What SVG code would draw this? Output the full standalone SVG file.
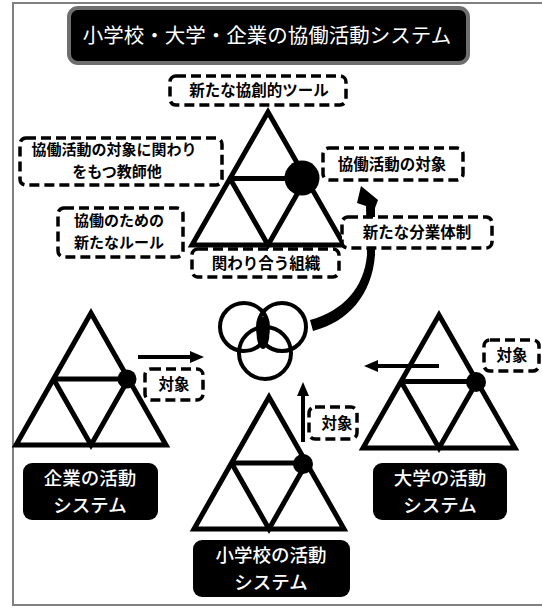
<svg xmlns="http://www.w3.org/2000/svg" width="542" height="608" viewBox="0 0 542 608">
<style>
  .tri{fill:none;stroke:#000;stroke-width:5;stroke-linejoin:miter}
  .dash{fill:#fff;stroke:#000;stroke-width:3.5;stroke-dasharray:10 5}
  .lbl{font-family:"Noto Sans CJK JP","Noto Sans CJK SC",sans-serif;font-size:15.5px;font-weight:700;fill:#000;text-anchor:middle}
  .lbl2{font-size:15px}
  .blk{fill:#000}
  .wt{font-family:"Noto Sans CJK JP","Noto Sans CJK SC",sans-serif;font-size:18.5px;font-weight:500;fill:#fff;text-anchor:middle}
  .ring{fill:none;stroke:#000;stroke-width:4}
  .arr{stroke:#000;stroke-width:4;fill:none}
</style>
<rect x="0" y="0" width="542" height="608" fill="#fff"/>
<rect x="13" y="3" width="540" height="602" fill="#fff" stroke="#808080" stroke-width="2"/>

<g id="title">
  <rect x="69" y="8" width="399" height="55" rx="9" fill="#000" stroke="#6e6e6e" stroke-width="4"/>
  <text class="wt" x="267" y="43" style="font-size:20.5px;font-weight:400">小学校・大学・企業の協働活動システム</text>
</g>

<g id="connectors">
  <path d="M313,331 C348,322 372,295 375,255 L375,208 L378,200 L361,186 L357,203 L366,206 L367,255 C364,288 343,311 310,320 Z" fill="#000"/>
  <line class="arr" x1="138" y1="357" x2="193" y2="357"/>
  <polygon points="190,351 204,357 190,363" fill="#000"/>
  <line class="arr" x1="439" y1="366" x2="376" y2="366"/>
  <polygon points="378,360 364,366 378,372" fill="#000"/>
  <line class="arr" x1="303" y1="442" x2="303" y2="394"/>
  <polygon points="297,396 303,382 309,396" fill="#000"/>
</g>

<g id="top-system">
  <polygon class="tri" points="268,112 192,245 344,245"/>
  <line class="tri" x1="230" y1="178.5" x2="306" y2="178.5"/>
  <polyline class="tri" points="230,178.5 268,245 306,178.5"/>
  <circle cx="302" cy="178" r="17.5" fill="#000"/>
</g>

<g id="company-system">
  <polygon class="tri" points="91,313 16,445 166,445"/>
  <line class="tri" x1="53.5" y1="379" x2="128.5" y2="379"/>
  <polyline class="tri" points="53.5,379 91,445 128.5,379"/>
  <circle cx="127" cy="379" r="9.5" fill="#000"/>
</g>

<g id="university-system">
  <polygon class="tri" points="439,315 363,448 515,448"/>
  <line class="tri" x1="401" y1="381.5" x2="477" y2="381.5"/>
  <polyline class="tri" points="401,381.5 439,448 477,381.5"/>
  <circle cx="476" cy="382" r="10" fill="#000"/>
</g>

<g id="school-system">
  <polygon class="tri" points="269,397 194,529 344,529"/>
  <line class="tri" x1="231.5" y1="463" x2="306.5" y2="463"/>
  <polyline class="tri" points="231.5,463 269,529 306.5,463"/>
  <circle cx="303" cy="464" r="10" fill="#000"/>
</g>

<g id="overlap">
  <circle class="ring" cx="244" cy="327" r="24"/>
  <circle class="ring" cx="282" cy="327" r="24"/>
  <circle class="ring" cx="265" cy="353" r="26"/>
  <ellipse cx="263" cy="333" rx="6.5" ry="16" fill="#000"/>
</g>

<g id="label-tool">
  <rect class="dash" x="170" y="76" width="176" height="29" rx="6"/>
  <text class="lbl" x="259" y="96">新たな協創的ツール</text>
</g>
<g id="label-teacher">
  <rect class="dash" x="20" y="138" width="202" height="47" rx="6"/>
  <text class="lbl lbl2" x="114" y="155">協働活動の対象に関わり</text>
  <text class="lbl lbl2" x="117" y="177">をもつ教師他</text>
</g>
<g id="label-rule">
  <rect class="dash" x="58" y="208" width="125" height="49" rx="6"/>
  <text class="lbl lbl2" x="119" y="226">協働のための</text>
  <text class="lbl lbl2" x="119" y="248">新たなルール</text>
</g>
<g id="label-object">
  <rect class="dash" x="323" y="148" width="140" height="32" rx="6"/>
  <text class="lbl" x="392" y="170">協働活動の対象</text>
</g>
<g id="label-division">
  <rect class="dash" x="342" y="217" width="150" height="31" rx="6"/>
  <text class="lbl" x="417" y="238">新たな分業体制</text>
</g>
<g id="label-org">
  <rect class="dash" x="192" y="249" width="147" height="28" rx="6"/>
  <text class="lbl" x="266" y="269">関わり合う組織</text>
</g>
<g id="label-obj-left">
  <rect class="dash" x="145" y="369" width="58" height="31" rx="6"/>
  <text class="lbl" x="174" y="390">対象</text>
</g>
<g id="label-obj-right">
  <rect class="dash" x="484" y="340" width="55" height="31" rx="6"/>
  <text class="lbl" x="512" y="361">対象</text>
</g>
<g id="label-obj-bottom">
  <rect class="dash" x="309" y="407" width="48" height="32" rx="6"/>
  <text class="lbl" x="337" y="429">対象</text>
</g>

<g id="name-company">
  <rect class="blk" x="23" y="463" width="135" height="57" rx="9"/>
  <text class="wt" x="90" y="485">企業の活動</text>
  <text class="wt" x="90" y="512">システム</text>
</g>
<g id="name-university">
  <rect class="blk" x="373" y="463" width="134" height="57" rx="9"/>
  <text class="wt" x="440" y="485">大学の活動</text>
  <text class="wt" x="440" y="512">システム</text>
</g>
<g id="name-school">
  <rect class="blk" x="193" y="540" width="157" height="57" rx="9"/>
  <text class="wt" x="271" y="562">小学校の活動</text>
  <text class="wt" x="271" y="589">システム</text>
</g>
</svg>
